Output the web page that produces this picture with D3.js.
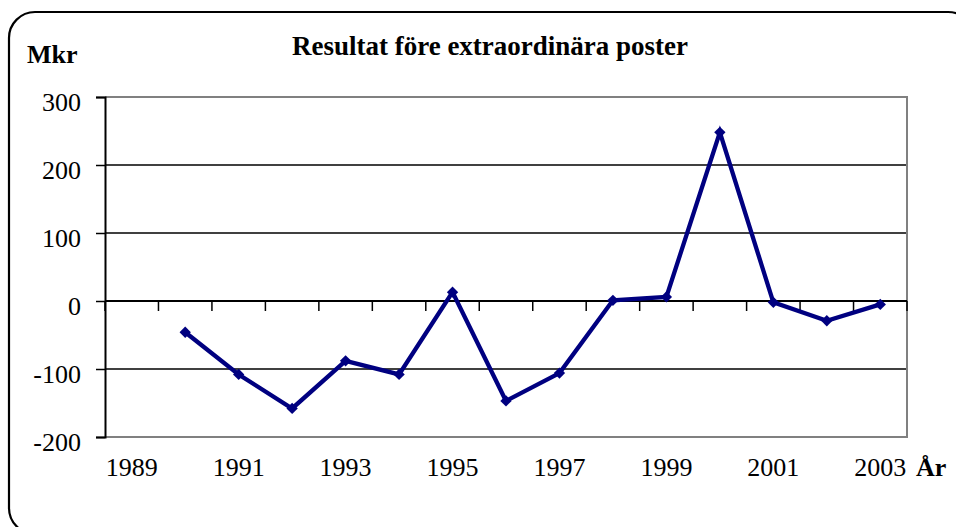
<!DOCTYPE html>
<html>
<head>
<meta charset="utf-8">
<script src="https://cdn.jsdelivr.net/npm/d3@7"></script>
<style>
  body { margin: 0; background: #fff; }
  svg { display: block; }
  text { font-family: "Liberation Serif", "Times New Roman", serif; fill: #000; }
</style>
</head>
<body>
<div class="container"></div>
<script>
// chart data
const years = ["1989", "1990", "1991", "1992", "1993", "1994", "1995", "1996",
               "1997", "1998", "1999", "2000", "2001", "2002", "2003"];
const result = [null, -46, -108, -158, -88, -108, 13, -147, -106, 1, 6, 248, -2, -29, -5];
const yTicks = [-200, -100, 0, 100, 200, 300];
const xLabels = ["1989", "1991", "1993", "1995", "1997", "1999", "2001", "2003"];

const width = 956;
const height = 527;
// plot area edges
const plotLeft = 105, plotRight = 907, plotTop = 97, plotBottom = 437;

const svg = d3.select('.container')
    .append('svg')
    .attr('width', width)
    .attr('height', height);

// outer rounded frame (runs off the right and bottom edges)
svg.append('rect')
    .attr('x', 9).attr('y', 12)
    .attr('width', 965).attr('height', 522)
    .attr('rx', 26).attr('ry', 26)
    .attr('fill', 'none')
    .attr('stroke', '#000')
    .attr('stroke-width', 2.2);

const xScale = d3.scaleBand().domain(years).range([plotLeft, plotRight]).padding(0);
const yScale = d3.scaleLinear().domain([-200, 300]).range([plotBottom, plotTop]);

// gridlines
svg.append('g')
    .selectAll('line')
    .data(yTicks.filter(d => d !== -200 && d !== 300 && d !== 0))
    .enter()
    .append('line')
    .attr('x1', plotLeft).attr('x2', plotRight)
    .attr('y1', d => yScale(d)).attr('y2', d => yScale(d))
    .attr('stroke', '#000').attr('stroke-width', 1.5);

// plot area border (grey)
svg.append('path')
    .attr('d', `M${plotLeft},${plotTop}H${plotRight}V${plotBottom}H${plotLeft}`)
    .attr('fill', 'none')
    .attr('stroke', '#808080')
    .attr('stroke-width', 2);

// y axis, plain hyphen for negatives
const yAxis = d3.axisLeft(yScale)
    .tickValues(yTicks)
    .tickFormat(d => String(d))
    .tickSize(9)
    .tickPadding(15);
const gy = svg.append('g')
    .attr('id', 'y-axis')
    .attr('transform', `translate(${plotLeft},0)`)
    .call(yAxis);
gy.select('.domain').attr('stroke', '#000').attr('stroke-width', 2);
gy.selectAll('.tick line').attr('stroke', '#000').attr('stroke-width', 1.5);
gy.selectAll('.tick text')
    .attr('font-size', '26px')
    .attr('font-family', '"Liberation Serif", serif')
    .attr('dy', '0.52em');

// x axis on the zero line, ticks between categories
const zeroY = yScale(0);
svg.append('line')
    .attr('x1', plotLeft).attr('x2', plotRight)
    .attr('y1', zeroY).attr('y2', zeroY)
    .attr('stroke', '#000').attr('stroke-width', 2);

const edges = years.map(d => xScale(d)).concat([plotRight]);
svg.append('g')
    .selectAll('line')
    .data(edges)
    .enter()
    .append('line')
    .attr('x1', d => d).attr('x2', d => d)
    .attr('y1', zeroY).attr('y2', zeroY + 10)
    .attr('stroke', '#000').attr('stroke-width', 1.5);

// category labels along the bottom
svg.append('g')
    .selectAll('text')
    .data(xLabels)
    .enter()
    .append('text')
    .attr('x', d => xScale(d) + xScale.bandwidth() / 2)
    .attr('y', 476)
    .attr('text-anchor', 'middle')
    .attr('font-size', '26px')
    .text(d => d);

svg.append('text')
    .attr('x', 916).attr('y', 476)
    .attr('font-size', '26px')
    .attr('font-weight', 'bold')
    .text('År');

svg.append('text')
    .attr('x', 27).attr('y', 63)
    .attr('font-size', '26px')
    .attr('font-weight', 'bold')
    .text('Mkr');

svg.append('text')
    .attr('x', 490).attr('y', 55)
    .attr('text-anchor', 'middle')
    .attr('font-size', '27px')
    .attr('font-weight', 'bold')
    .text('Resultat före extraordinära poster');

// series
const points = years.map((d, i) => ({ year: d, value: result[i] })).filter(d => d.value !== null);
const line = d3.line()
    .x(d => xScale(d.year) + xScale.bandwidth() / 2)
    .y(d => yScale(d.value));

svg.append('path')
    .datum(points)
    .attr('d', line)
    .attr('fill', 'none')
    .attr('stroke', '#000080')
    .attr('stroke-width', 4.3)
    .attr('stroke-linejoin', 'miter');

// diamond markers: squares turned 45 degrees
svg.append('g')
    .selectAll('path')
    .data(points)
    .enter()
    .append('path')
    .attr('d', d3.symbol().type(d3.symbolSquare).size(64))
    .attr('transform', d => `translate(${xScale(d.year) + xScale.bandwidth() / 2},${yScale(d.value)}) rotate(45)`)
    .attr('fill', '#000080');
</script>
</body>
</html>
